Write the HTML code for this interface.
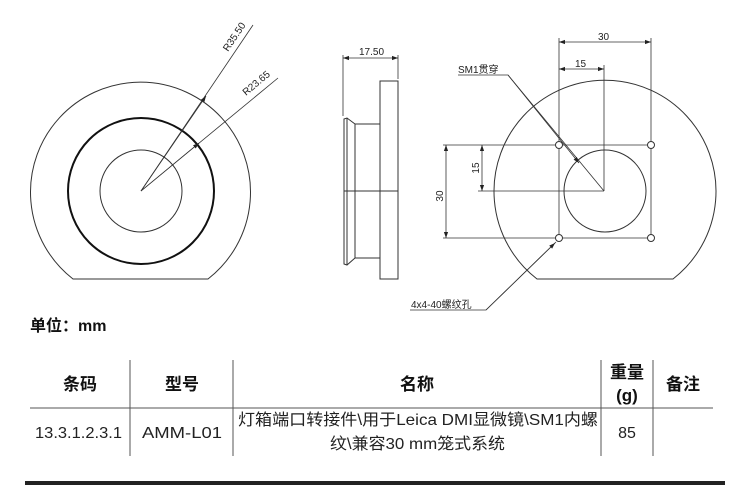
<!DOCTYPE html>
<html><head><meta charset="utf-8"><style>
html,body{margin:0;padding:0;background:#fff;}
svg{display:block;}
text{font-family:"Liberation Sans","Noto Sans CJK SC",sans-serif;}
</style></head><body>
<svg width="750" height="485" viewBox="0 0 750 485" xmlns="http://www.w3.org/2000/svg">
<defs>
<marker id="a" viewBox="0 0 10 10" refX="10" refY="5" markerWidth="8" markerHeight="6" orient="auto-start-reverse" markerUnits="userSpaceOnUse"><path d="M0,1.5 L10,5 L0,8.5 z" fill="#222"/></marker>
</defs>
<g fill="none" stroke="#333" stroke-width="1">
<path d="M73,279 L208,279 A110,110 0 1 0 73,279 Z"/>
<circle cx="141" cy="191" r="73" stroke="#111" stroke-width="2"/>
<circle cx="141" cy="191" r="41"/>
<line x1="141" y1="191" x2="253" y2="25" stroke-width="0.8"/>
<line x1="141" y1="191" x2="206" y2="96" marker-end="url(#a)" stroke-width="0.8"/>
<line x1="141" y1="191" x2="278" y2="78" stroke-width="0.8"/>
<line x1="141" y1="191" x2="199" y2="143" marker-end="url(#a)" stroke-width="0.8"/>
<rect x="380" y="81" width="18" height="198"/>
<rect x="355" y="124" width="25" height="134"/>
<path d="M355,124 L347,118 L344,119 L344,264 L347,265 L355,258"/>
<line x1="347" y1="118" x2="347" y2="265"/>
<line x1="344" y1="191" x2="398" y2="191"/>
<line x1="343" y1="55" x2="343" y2="116" stroke-width="0.8"/>
<line x1="398" y1="55" x2="398" y2="79" stroke-width="0.8"/>
<line x1="343" y1="58" x2="398" y2="58" marker-start="url(#a)" marker-end="url(#a)" stroke-width="0.8"/>
<path d="M537,279 L673,279 A111,111 0 1 0 537,279 Z"/>
<circle cx="605" cy="191" r="41"/>
<g stroke-width="0.8">
<line x1="443" y1="145" x2="651" y2="145"/>
<line x1="443" y1="238" x2="651" y2="238"/>
<line x1="478" y1="191" x2="604" y2="191"/>
<line x1="559" y1="38" x2="559" y2="238"/>
<line x1="651" y1="38" x2="651" y2="238"/>
<line x1="604" y1="65" x2="604" y2="191"/>
<line x1="559" y1="42" x2="651" y2="42" marker-start="url(#a)" marker-end="url(#a)"/>
<line x1="559" y1="69" x2="604" y2="69" marker-start="url(#a)" marker-end="url(#a)"/>
<line x1="446" y1="145" x2="446" y2="238" marker-start="url(#a)" marker-end="url(#a)"/>
<line x1="482" y1="145" x2="482" y2="191" marker-start="url(#a)" marker-end="url(#a)"/>
<polyline points="458,75 508,75 604,191"/>
<line x1="508" y1="75" x2="579" y2="163" marker-end="url(#a)"/>
<polyline points="410,310 486,310 556,242"/>
<line x1="486" y1="310" x2="555" y2="243" marker-end="url(#a)"/>
</g>
<g fill="#fff">
<circle cx="559" cy="145" r="3.5"/><circle cx="651" cy="145" r="3.5"/>
<circle cx="559" cy="238" r="3.5"/><circle cx="651" cy="238" r="3.5"/>
</g>
</g>
<g font-size="10" fill="#222">
<text x="0" y="0" transform="translate(228,52) rotate(-56)">R35.50</text>
<text x="0" y="0" transform="translate(246,96) rotate(-40)">R23.65</text>
<text x="359" y="55">17.50</text>
<text x="598" y="40">30</text>
<text x="575" y="67">15</text>
<text x="458" y="73">SM1贯穿</text>
<text x="411" y="308">4x4-40螺纹孔</text>
<text transform="translate(443,196) rotate(-90)" text-anchor="middle">30</text>
<text transform="translate(479,168) rotate(-90)" text-anchor="middle">15</text>
</g>
<text x="30" y="331" font-size="16" font-weight="bold" fill="#111">单位：mm</text>
<g stroke="#555" stroke-width="1">
<line x1="30" y1="408" x2="713" y2="408"/>
<line x1="130" y1="360" x2="130" y2="456"/>
<line x1="233" y1="360" x2="233" y2="456"/>
<line x1="601" y1="360" x2="601" y2="456"/>
<line x1="653" y1="360" x2="653" y2="456"/>
</g>
<g font-size="17" font-weight="bold" fill="#111" text-anchor="middle">
<text x="80" y="390">条码</text>
<text x="182" y="390">型号</text>
<text x="417" y="390">名称</text>
<text x="627" y="378">重量</text>
<text x="627" y="401">(g)</text>
<text x="683" y="390">备注</text>
</g>
<g font-size="16" fill="#222">
<text x="35" y="438" textLength="87" lengthAdjust="spacingAndGlyphs">13.3.1.2.3.1</text>
<text x="142" y="438" textLength="80" lengthAdjust="spacingAndGlyphs">AMM-L01</text>
<text x="238" y="425" textLength="360" lengthAdjust="spacingAndGlyphs">灯箱端口转接件\用于Leica DMI显微镜\SM1内螺</text>
<text x="330" y="449" textLength="175" lengthAdjust="spacingAndGlyphs">纹\兼容30 mm笼式系统</text>
<text x="627" y="438" text-anchor="middle">85</text>
</g>
<rect x="25" y="481" width="700" height="4" fill="#222"/>
</svg>
</body></html>
